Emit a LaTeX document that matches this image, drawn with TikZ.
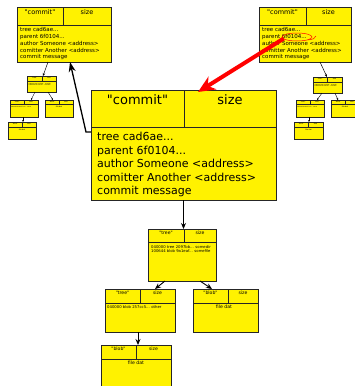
\documentclass[tikz,border=0pt]{standalone}
\usepackage{fontspec}
\setmainfont{DejaVu Sans}[Ligatures=TeXOff]
\usetikzlibrary{arrows.meta,calc,shapes.geometric}
\tikzset{
  objst/.style={draw=black!85, fill=yellow, inner sep=0pt, outer sep=0pt},
  boxshadow/.style={fill=black!35},
  lbl/.style={inner sep=0pt, anchor=north},
  bodytxt/.style={inner sep=0pt, anchor=north west, align=left},
  ptr/.style={-{Stealth[length=6pt,width=5pt]}, line width=0.9pt},
  minptr/.style={-{Stealth[length=3pt,width=2.6pt]}, line width=0.5pt},
  tinyptr/.style={-{Stealth[length=2pt,width=1.8pt]}, line width=0.4pt},
}
\newcommand\fs[2]{\fontsize{#1}{#2}\selectfont}
\newcommand\dq{"}
% name, x1, y1, x2, y2, header y, divider x, line width
\newcommand\objbox[8]{%
  \fill[boxshadow] (#2+1,#3+1) rectangle (#4+1,#5+1);
  \node[objst, line width=#8, minimum width={(#4-#2)*1pt}, minimum height={(#5-#3)*1pt}] (#1) at ({(#2+#4)/2},{(#3+#5)/2}) {};
  \draw[black!85, line width=#8] (#2,#6) -- (#4,#6) (#7,#3) -- (#7,#6);
}
% name, left cell centre, right cell centre, y, font size, type
\newcommand\hdr[6]{%
  \node[lbl, font=\fs{#5}{#5}] (#1a) at (#2,#4) {\dq#6\dq};
  \node[lbl, font=\fs{#5}{#5}] (#1b) at (#3,#4) {size};
}
\begin{document}
\begin{tikzpicture}[x=1pt,y=-1pt]
\fill[white] (0,0) rectangle (355,386);
\useasboundingbox (0,0) rectangle (355,386);

% ---------- top-left commit ----------
\objbox{tlc}{17}{7}{111}{62}{25}{63}{0.6pt}
\hdr{tlch}{40}{87}{9}{6.5}{commit}
\node[bodytxt, font=\fs{5.5}{6.75}] (tlct) at (20,27.5) {tree cad6ae...\\parent 6f0104...\\author Someone <address>\\comitter Another <address>\\commit message};

% ---------- top-right commit ----------
\objbox{trc}{259}{7}{351}{62}{25}{306}{0.6pt}
\hdr{trch}{282.5}{328.5}{9}{6.5}{commit}
\node[bodytxt, font=\fs{5.5}{6.75}] (trct) at (262,27.5) {tree cad6ae...\\parent 6f0104...\\author Someone <address>\\comitter Another <address>\\commit message};

% ---------- mini trees, left ----------
\objbox{mt1}{27}{76}{56}{92}{81}{42}{0.35pt}
\hdr{mt1h}{34.5}{49}{77}{1.8}{tree}
\node[bodytxt, font=\fs{1.4}{1.6}] (mt1t) at (28.5,83) {040000 tree 2097bb... somedir\\100644 blob 9a1eaf... somefile};
\objbox{ms1}{10}{100}{38}{117}{104.5}{24}{0.35pt}
\hdr{ms1h}{17}{31}{101}{1.8}{tree}
\node[bodytxt, font=\fs{1.4}{1.6}] (ms1t) at (11,106) {040000 blob 257cc5... other};
\objbox{mb1}{45}{100}{73}{117}{104.5}{59}{0.35pt}
\hdr{mb1h}{52}{66}{101}{1.8}{blob}
\node[lbl, font=\fs{1.8}{2}] (mb1t) at (59,106) {file dat};
\objbox{mbb1}{8}{122}{36}{139}{127}{22}{0.35pt}
\hdr{mbb1h}{15}{29}{123}{1.8}{blob}
\node[lbl, font=\fs{1.8}{2}] (mbb1t) at (22,128.5) {file dat};

% ---------- mini trees, right ----------
\objbox{mt2}{313}{77}{342}{93}{82}{327}{0.35pt}
\hdr{mt2h}{320}{334.5}{78}{1.8}{tree}
\node[bodytxt, font=\fs{1.4}{1.6}] (mt2t) at (314.5,84) {040000 tree 2097bb... somedir\\100644 blob 9a1eaf... somefile};
\objbox{ms2}{296}{100}{324}{117}{104.5}{310}{0.35pt}
\hdr{ms2h}{303}{317}{101}{1.8}{tree}
\node[bodytxt, font=\fs{1.4}{1.6}] (ms2t) at (297,106) {040000 blob 257cc5... other};
\objbox{mb2}{331}{100}{359}{117}{104.5}{345}{0.35pt}
\hdr{mb2h}{338}{352}{101}{1.8}{blob}
\node[lbl, font=\fs{1.8}{2}] (mb2t) at (345,106) {file dat};
\objbox{mbb2}{294}{122}{323}{139}{127}{308}{0.35pt}
\hdr{mbb2h}{301}{315.5}{123}{1.8}{blob}
\node[lbl, font=\fs{1.8}{2}] (mbb2t) at (308.5,128.5) {file dat};

% ---------- big commit ----------
\objbox{big}{91}{90}{276}{200}{127}{184}{0.9pt}
\hdr{bigh}{137.5}{230}{94}{13}{commit}
\node[bodytxt, font=\fs{11}{13.5}] (bigt) at (97,132) {tree cad6ae...\\parent 6f0104...\\author Someone <address>\\comitter Another <address>\\commit message};

% ---------- tree ----------
\objbox{tree}{148}{229}{216}{281}{242}{184}{0.6pt}
\hdr{treeh}{166}{200}{231}{4.6}{tree}
\node[bodytxt, font=\fs{3.8}{4}] (treet) at (151,245) {040000 tree 2097bb... somedir\\100644 blob 9a1eaf... somefile};

% ---------- subtree ----------
\objbox{subt}{105}{289}{175}{332}{303}{140}{0.6pt}
\hdr{subth}{122.5}{157.5}{291}{4.6}{tree}
\node[bodytxt, font=\fs{3.8}{4}] (subtt) at (107,305.5) {040000 blob 257cc5... other};

% ---------- blob right ----------
\objbox{blobr}{193}{289}{258}{332}{303}{228}{0.6pt}
\hdr{blobrh}{210.5}{243}{291}{4.6}{blob}
\node[lbl, font=\fs{4.6}{5}] (blobrt) at (224,304.5) {file dat};

% ---------- blob bottom ----------
\objbox{blobb}{101}{345}{171}{392}{359}{136}{0.6pt}
\hdr{blobbh}{118.5}{153.5}{347}{4.6}{blob}
\node[lbl, font=\fs{4.6}{5}] (blobbt) at (136,360.5) {file dat};

% ---------- connectors ----------
\draw[ptr] (big.south) -- (big.south |- tree.north);
\draw[ptr] ($(tree.south west)+(17,0)$) -- ($(subt.north west)+(50,0)$);
\draw[ptr] ($(tree.south west)+(52,0)$) -- ($(blobr.north west)+(19,0)$);
\draw[ptr] ($(subt.south west)+(33,0)$) -- ($(blobb.north west)+(37,0)$);

\draw[minptr] ($(tlc.south west)+(31,0)$) -- ($(mt1.north west)+(16,0)$);
\draw[tinyptr] ($(mt1.south west)+(8,0)$) -- ($(ms1.north west)+(21,0)$);
\draw[tinyptr] ($(mt1.south west)+(21,0)$) -- ($(mb1.north west)+(8,0)$);
\draw[tinyptr] ($(ms1.south west)+(13,0)$) -- ($(mbb1.north west)+(15,0)$);

\draw[minptr] ($(trc.south west)+(61,0)$) -- ($(mt2.north west)+(14,0)$);
\draw[tinyptr] ($(mt2.south west)+(9,0)$) -- ($(ms2.north west)+(21,0)$);
\draw[tinyptr] ($(mt2.south west)+(22,0)$) -- ($(mb2.north west)+(7,0)$);
\draw[tinyptr] ($(ms2.south west)+(13,0)$) -- ($(mbb2.north west)+(15,0)$);

% parent pointer (black)
\draw[line width=1.3pt, -{Stealth[length=10pt,width=7pt]}] ($(big.north west)+(0,42)$) -- ++(-5,0) -- ($(tlc.south west)+(53,0)$);

% red highlight
\node[draw=red, ellipse, line width=0.5pt, minimum width=30pt, minimum height=8pt, inner sep=0pt] (hl) at (297,37) {};
\draw[red, line width=0.5pt] (hl.south east) .. controls (314,39) .. (316,36);
\draw[red, line width=4pt, -{Stealth[length=17pt,width=15pt]}] ($(hl.west)+(2,1.5)$) -- ($(big.north west)+(107,2)$);
\end{tikzpicture}
\end{document}
